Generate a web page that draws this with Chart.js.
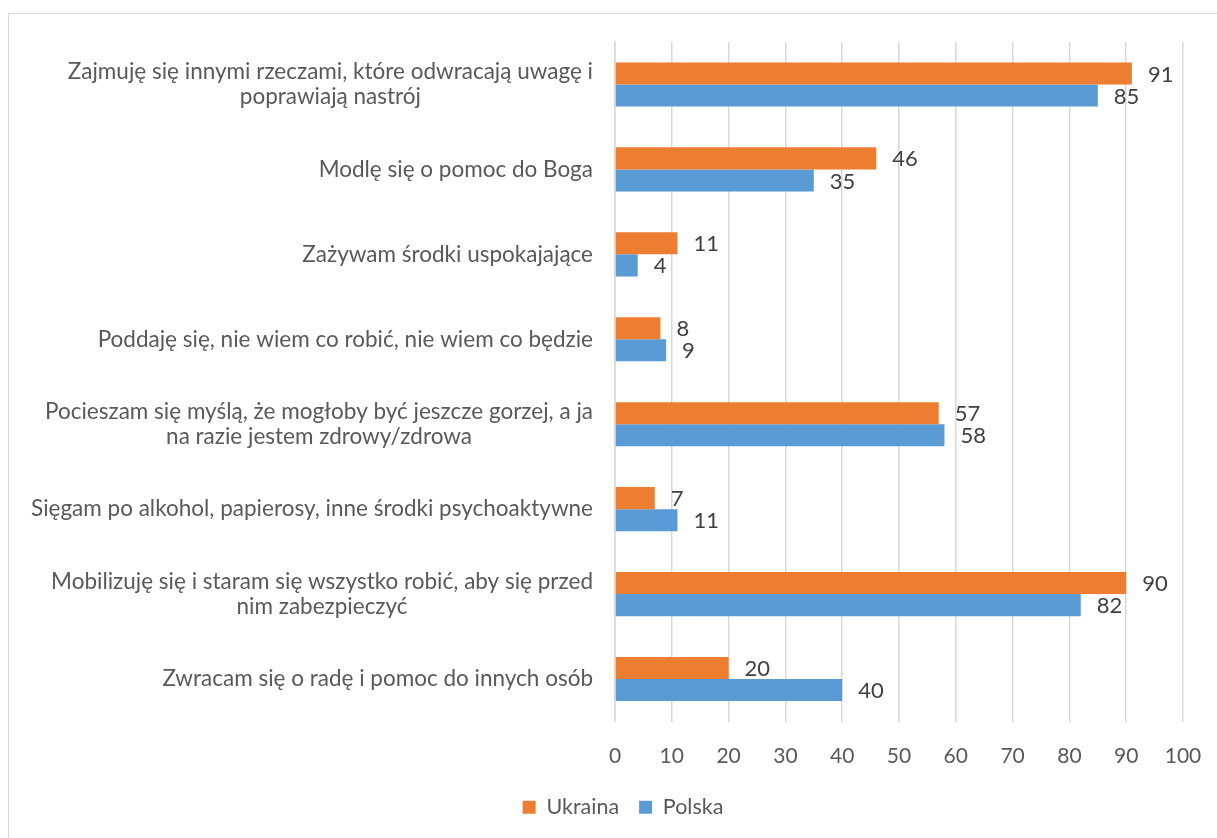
<!DOCTYPE html>
<html>
<head>
<meta charset="utf-8">
<script src="https://cdn.jsdelivr.net/npm/chart.js@4"></script>
<style>
    body { margin: 0; background: #fff; overflow: hidden; }
    #frame {
        position: absolute;
        left: 8px;
        top: 13px;
        width: 1230px;
        height: 840px;
        border: 1px solid #d9d9d9;
    }
    canvas { display: block; }
</style>
</head>
<body>
<div id="frame">
    <canvas id="bar-chart" width="1215" height="824"></canvas>
</div>
<script>
// Categories (multi-line labels) and series values
const categories = [
    ["Zajmuję się innymi rzeczami, które odwracają uwagę i", "poprawiają nastrój"],
    ["Modlę się o pomoc do Boga"],
    ["Zażywam środki uspokajające"],
    ["Poddaję się, nie wiem co robić, nie wiem co będzie"],
    ["Pocieszam się myślą, że mogłoby być jeszcze gorzej, a ja", "na razie jestem zdrowy/zdrowa"],
    ["Sięgam po alkohol, papierosy, inne środki psychoaktywne"],
    ["Mobilizuję się i staram się wszystko robić, aby się przed", "nim zabezpieczyć"],
    ["Zwracam się o radę i pomoc do innych osób"]
];
const ukraina = [91, 46, 11, 8, 57, 7, 90, 20];
const polska = [85, 35, 4, 9, 58, 11, 82, 40];
const xTicks = [0, 10, 20, 30, 40, 50, 60, 70, 80, 90, 100];

const FONT = "Lato";
const GREY = "#595959";

// Category labels: each line centred within its block, block right-aligned to the axis
const categoryLabels = {
    id: "categoryLabels",
    afterDraw(chart) {
        const ctx = chart.ctx;
        const y = chart.scales.y;
        const right = y.right - 22;
        const lineH = 25;
        ctx.save();
        ctx.font = "22.5px " + FONT;
        ctx.fillStyle = GREY;
        ctx.textAlign = "center";
        ctx.textBaseline = "middle";
        categories.forEach((lines, i) => {
            const maxW = Math.max(...lines.map(l => ctx.measureText(l).width));
            const cx = right - maxW / 2;
            const cy = y.getPixelForTick(i);
            const top = cy - (lines.length - 1) * lineH / 2;
            lines.forEach((l, k) => ctx.fillText(l, cx, top + k * lineH));
        });
        ctx.restore();
    }
};

// Value labels at the end of each bar
const valueLabels = {
    id: "valueLabels",
    afterDatasetsDraw(chart) {
        const ctx = chart.ctx;
        ctx.save();
        ctx.font = "22px " + FONT;
        ctx.fillStyle = "#404040";
        ctx.textAlign = "left";
        ctx.textBaseline = "middle";
        chart.data.datasets.forEach((ds, di) => {
            chart.getDatasetMeta(di).data.forEach((bar, i) => {
                ctx.fillText(ds.data[i], bar.x + 16, bar.y + 1);
            });
        });
        ctx.restore();
    }
};

new Chart(document.getElementById("bar-chart").getContext("2d"), {
    type: "bar",
    data: {
        labels: categories.map(c => c.join(" ")),
        datasets: [
            { label: "Ukraina", data: ukraina, backgroundColor: "#ED7D31" },
            { label: "Polska", data: polska, backgroundColor: "#5B9BD5" }
        ]
    },
    options: {
        indexAxis: "y",
        responsive: false,
        animation: false,
        events: [],
        categoryPercentage: 0.52,
        barPercentage: 1,
        layout: { padding: { top: 28, right: 41, left: 54, bottom: 10 } },
        scales: {
            x: {
                min: 0,
                max: 100,
                afterBuildTicks: axis => { axis.ticks = xTicks.map(v => ({ value: v })); },
                afterFit: axis => { axis.height = 55; },
                grid: { color: "#d9d9d9", lineWidth: 1.5, drawTicks: false },
                border: { display: false },
                ticks: { color: GREY, font: { family: FONT, size: 21 }, padding: 22 }
            },
            y: {
                afterFit: axis => { axis.width = 552; },
                grid: { display: false },
                border: { color: "#d9d9d9", width: 1.5 },
                ticks: { display: false }
            }
        },
        plugins: {
            tooltip: { enabled: false },
            legend: {
                position: "bottom",
                labels: {
                    color: GREY,
                    font: { family: FONT, size: 21.5 },
                    boxWidth: 13,
                    boxHeight: 13,
                    padding: 20
                }
            }
        }
    },
    plugins: [categoryLabels, valueLabels]
});
</script>
</body>
</html>
